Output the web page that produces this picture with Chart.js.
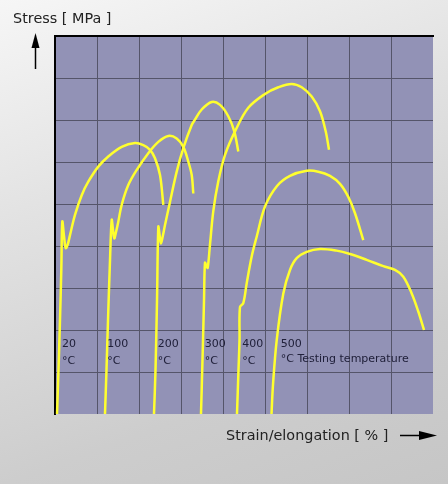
<!DOCTYPE html>
<html>
<head>
<meta charset="utf-8">
<script src="https://cdn.jsdelivr.net/npm/chart.js@4.4.1/dist/chart.umd.min.js"></script>
<style>
  html, body { margin: 0; padding: 0; }
  body {
    width: 448px; height: 484px; overflow: hidden; position: relative;
    background: linear-gradient(160deg, #f6f6f6 0%, #e2e2e2 35%, #cdcdcd 75%, #c6c6c6 100%);
    font-family: "DejaVu Sans", Verdana, sans-serif;
  }
  #wrap { position: absolute; left: 0; top: 0; width: 448px; height: 484px; }
  .lbl { position: absolute; font-size: 14.4px; color: #222; white-space: nowrap; line-height: 18px; }
  svg { position: absolute; left: 0; top: 0; }
</style>
</head>
<body>
<div id="wrap"><canvas id="c" width="448" height="484"></canvas></div>
<div class="lbl" style="left:13px; top:9px;">Stress [ MPa ]</div>
<div class="lbl" style="left:226px; top:426px;">Strain/elongation [ % ]</div>
<svg width="448" height="484">
  <line x1="35.5" y1="46" x2="35.5" y2="69" stroke="#000" stroke-width="1.5"/>
  <polygon points="35.5,33 31.5,48 39.5,48" fill="#000"/>
  <line x1="400" y1="435.5" x2="422" y2="435.5" stroke="#000" stroke-width="1.5"/>
  <polygon points="437,435.5 419,431 419,440" fill="#000"/>
</svg>
<script>
// Values in grid units (x: strain, y: stress)
const strain20  = [0.048,0.083,0.119,0.15,0.174,0.214,0.255,0.298,0.357,0.476,0.636,0.793,1.031,1.269,1.588,1.905,2.102,2.262,2.381,2.5,2.579];
const stress20  = [0,1.05,2.24,3.43,4.58,4.24,3.95,4.02,4.26,4.74,5.21,5.53,5.89,6.13,6.36,6.45,6.40,6.29,6.09,5.69,4.98];
const strain100 = [1.19,1.226,1.262,1.31,1.35,1.381,1.412,1.452,1.507,1.588,1.745,1.945,2.221,2.46,2.698,2.898,3.055,3.174,3.255,3.293];
const stress100 = [0,1.05,2.24,3.67,4.62,4.38,4.18,4.33,4.58,4.98,5.45,5.81,6.21,6.48,6.62,6.56,6.36,6.01,5.69,5.25];
const strain200 = [2.357,2.393,2.429,2.46,2.493,2.524,2.567,2.619,2.738,2.898,3.055,3.255,3.333,3.493,3.731,3.929,4.126,4.269,4.364];
const stress200 = [0,1.05,2.71,4.46,4.24,4.06,4.24,4.5,5.05,5.77,6.33,6.88,7.01,7.25,7.43,7.36,7.09,6.73,6.25];
const strain300 = [3.476,3.512,3.548,3.571,3.607,3.636,3.69,3.769,3.888,4.048,4.286,4.602,5.0,5.317,5.636,5.874,6.112,6.31,6.445,6.524];
const stress300 = [0,1.29,2.71,3.6,3.52,3.48,4.03,4.83,5.54,6.17,6.73,7.29,7.62,7.78,7.86,7.78,7.56,7.21,6.73,6.29];
const strain400 = [4.333,4.369,4.393,4.405,4.483,4.564,4.683,4.802,5.0,5.286,5.595,5.993,6.269,6.548,6.786,6.983,7.143,7.34];
const stress400 = [0,1.05,1.76,2.55,2.64,3.11,3.75,4.22,4.94,5.43,5.67,5.79,5.77,5.67,5.48,5.17,4.78,4.14];
const strain500 = [5.155,5.19,5.279,5.436,5.595,5.755,5.993,6.31,6.707,7.024,7.421,7.817,8.095,8.293,8.493,8.65,8.786];
const stress500 = [0,0.69,1.76,2.87,3.43,3.71,3.86,3.93,3.89,3.81,3.67,3.52,3.43,3.27,2.87,2.44,2.0];

const tempLabels  = ['20','100','200','300','400','500'];
const tempUnits   = ['°C','°C','°C','°C','°C','°C Testing temperature'];
const tempLabelX  = [0.167,1.245,2.445,3.564,4.46,5.374];
const tempLine1Y  = 1.67;
const tempLine2Y  = [1.25,1.25,1.25,1.25,1.25,1.31];

const axisMax = 9;

function pts(xs, ys) { return xs.map((x, i) => ({ x: x, y: ys[i] })); }

const curves = [
  [strain20, stress20], [strain100, stress100], [strain200, stress200],
  [strain300, stress300], [strain400, stress400], [strain500, stress500]
];

const plotBg = {
  id: 'plotBg',
  beforeDraw(chart) {
    const { ctx, chartArea: a } = chart;
    ctx.save();
    ctx.fillStyle = '#9292b6';
    ctx.fillRect(a.left, a.top, a.right - a.left, a.bottom - a.top);
    ctx.restore();
  }
};

const tempText = {
  id: 'tempText',
  afterDatasetsDraw(chart) {
    const { ctx, scales: { x, y } } = chart;
    ctx.save();
    ctx.font = '11px "DejaVu Sans", Verdana, sans-serif';
    ctx.fillStyle = '#20203a';
    ctx.textBaseline = 'middle';
    ctx.textAlign = 'left';
    tempLabels.forEach((t, i) => {
      const px = x.getPixelForValue(tempLabelX[i]);
      ctx.fillText(t, px, y.getPixelForValue(tempLine1Y));
      ctx.fillText(tempUnits[i], px, y.getPixelForValue(tempLine2Y[i]));
    });
    ctx.restore();
  }
};

new Chart(document.getElementById('c'), {
  type: 'line',
  data: {
    datasets: curves.map(c => ({
      data: pts(c[0], c[1]),
      borderColor: '#ffff2e',
      borderWidth: 2.5,
      pointRadius: 0,
      tension: 0.35,
      borderJoinStyle: 'round',
      fill: false
    }))
  },
  options: {
    responsive: false,
    animation: false,
    devicePixelRatio: 1,
    layout: { padding: { left: 55, top: 36, right: 15, bottom: 70 } },
    plugins: { legend: { display: false }, tooltip: { enabled: false } },
    scales: {
      x: {
        type: 'linear', position: 'top', min: 0, max: axisMax,
        ticks: { display: false, stepSize: 1 },
        grid: {
          drawTicks: false,
          lineWidth: 1,
          color: ctx => (ctx.tick && ctx.tick.value === axisMax) ? 'rgba(0,0,0,0)' : '#55556a'
        },
        border: { display: true, color: '#000', width: 2 },
        afterFit: s => { s.height = 0; }
      },
      y: {
        type: 'linear', min: 0, max: axisMax,
        ticks: { display: false, stepSize: 1 },
        grid: {
          drawTicks: false,
          lineWidth: 1,
          color: ctx => (ctx.tick && ctx.tick.value === 0) ? 'rgba(0,0,0,0)' : '#55556a'
        },
        border: { display: true, color: '#000', width: 2 },
        afterFit: s => { s.width = 0; }
      }
    }
  },
  plugins: [plotBg, tempText]
});
</script>
</body>
</html>
